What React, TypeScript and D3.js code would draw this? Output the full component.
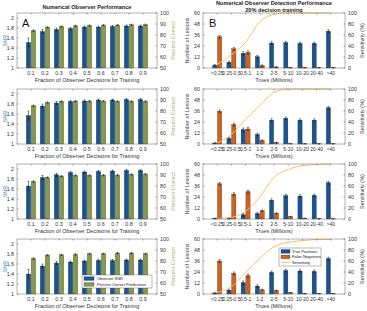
import React from "react";
import * as d3 from "d3";

const fractions = [0.1, 0.2, 0.3, 0.4, 0.5, 0.6, 0.7, 0.8, 0.9];
const fractionLabels = ["0.1", "0.2", "0.3", "0.4", "0.5", "0.6", "0.7", "0.8", "0.9"];

const snr1 = [1.51, 1.73, 1.77, 1.79, 1.82, 1.82, 1.83, 1.84, 1.84];
const snr2 = [1.57, 1.76, 1.82, 1.85, 1.86, 1.88, 1.88, 1.89, 1.89];
const snr3 = [1.66, 1.83, 1.885, 1.93, 1.94, 1.95, 1.96, 1.97, 1.97];
const snr4 = [1.40, 1.56, 1.62, 1.64, 1.66, 1.67, 1.67, 1.68, 1.68];
const snrErr = [0.09, 0.04, 0.03, 0.02, 0.02, 0.02, 0.02, 0.02, 0.02];

const pc1 = [84, 87, 87.7, 88.3, 88.6, 89, 89, 89.3, 89.3];
const pc2 = [84.7, 87.7, 88.7, 89, 89, 89, 88.7, 88.7, 88.7];
const pc3 = [84, 87.7, 89, 89.6, 89.6, 89.9, 89.9, 90.5, 90.8];
const pc4 = [82.2, 85.3, 85.6, 86, 86.6, 86.6, 87.2, 87.2, 86.6];
const pcErr = [0.7, 0.6, 0.6, 0.6, 0.6, 0.6, 0.6, 0.6, 0.6];

const trueBins = ["<0.25", "0.25-0.5", "0.5-1", "1-2", "2-5", "5-10", "10-20", "20-40", ">40"];

const tp1 = [3, 6.3, 16, 12.3, 27.2, 27.6, 26.8, 26.8, 40.2];
const tp2 = [1, 6, 15.6, 10.4, 26, 28, 26, 26, 39.5];
const tp3 = [0.4, 0.7, 4.8, 6, 20.5, 25.3, 25, 25.7, 39.5];
const tp4 = [1.1, 4.1, 12.4, 8.6, 23.6, 25.5, 25.1, 24.7, 38.6];

const fn1 = [34, 20.9, 17, 2.6, 1, 0.3, 0.3, 0.3, 0.3];
const fn2 = [35.8, 21.2, 16.4, 3.7, 1.5, 0.2, 0.2, 0.2, 0.2];
const fn3 = [38.4, 27.2, 29.8, 9, 6.3, 2.6, 0.8, 0.3, 0.2];
const fn4 = [36, 22.5, 19.9, 4.5, 3.7, 1.5, 0.4, 0.4, 0.4];

const sens1 = [7, 24, 47, 84, 97, 100, 100, 100, 100];
const sens2 = [2, 17, 45, 70, 94, 100, 100, 100, 100];
const sens3 = [1, 3, 14, 40, 76, 90, 97, 99, 100];
const sens4 = [3, 13, 39, 65, 86, 94, 97, 99, 99];

const tpErr = [0.7, 1.2, 1.8, 1.4, 1.5, 1.5, 1.4, 1.4, 1.5];
const fnErr = [1.5, 1.6, 1.8, 0.8, 0.6, 0.3, 0.2, 0.2, 0.2];

const snrTicks = [1, 1.2, 1.4, 1.6, 1.8, 2];
const pcTicks = [50, 60, 70, 80, 90, 100];
const lesionTicks = [0, 12, 24, 36, 48, 60];
const sensTicks = [0, 20, 40, 60, 80, 100];

const FONT = "'Liberation Sans', Arial, sans-serif";
const BLUE = "#1b5590";
const GREEN = "#88994d";
const ORANGE = "#d2611f";
const SENS = "#f6c266";
const ROW_TOPS = [13, 89, 164, 239];
const H = 55;
const LX0 = 17, LX1 = 157;
const RX0 = 203, RX1 = 345;

function ErrBar({ x, y0, y1, cap }: { x: number; y0: number; y1: number; cap: number }) {
  return (
    <g stroke="#111" strokeWidth={0.5}>
      <line x1={x} x2={x} y1={y0} y2={y1} />
      <line x1={x - cap} x2={x + cap} y1={y0} y2={y0} />
      <line x1={x - cap} x2={x + cap} y1={y1} y2={y1} />
    </g>
  );
}

function LeftPanel({ top, snr, pc, legend, title }: any) {
  const x = d3.scaleLinear().domain([0, 1]).range([LX0, LX1]);
  const yL = d3.scaleLinear().domain([1, 2.1]).range([top + H, top]);
  const yR = d3.scaleLinear().domain([50, 100]).range([top + H, top]);
  const bw = 4.4;
  return (
    <g fontFamily={FONT}>
      {title && (
        <text x={(LX0 + LX1) / 2} y={top - 4} fontSize={5.6} fontWeight="bold" textAnchor="middle" fill="#222">
          Numerical Observer Performance
        </text>
      )}
      {fractions.map((f, i) => (
        <g key={i}>
          <rect x={x(f) - bw - 0.3} y={yL(snr[i])} width={bw} height={yL(1) - yL(snr[i])} fill={BLUE} stroke="#0b2540" strokeWidth={0.3} />
          <rect x={x(f) + 0.3} y={yR(pc[i])} width={bw} height={yR(50) - yR(pc[i])} fill={GREEN} stroke="#2d3a14" strokeWidth={0.3} />
          <ErrBar x={x(f) - bw / 2 - 0.3} y0={yL(snr[i] - snrErr[i])} y1={yL(snr[i] + snrErr[i])} cap={1} />
          <ErrBar x={x(f) + bw / 2 + 0.3} y0={yR(pc[i] - pcErr[i])} y1={yR(pc[i] + pcErr[i])} cap={1} />
        </g>
      ))}
      <rect x={LX0} y={top} width={LX1 - LX0} height={H} fill="none" stroke="#666" strokeWidth={0.5} />
      {fractions.map((f, i) => (
        <g key={i}>
          <line x1={x(f)} x2={x(f)} y1={top + H} y2={top + H - 1.5} stroke="#444" strokeWidth={0.5} />
          <line x1={x(f)} x2={x(f)} y1={top} y2={top + 1.5} stroke="#444" strokeWidth={0.5} />
          <text x={x(f)} y={top + H + 7} fontSize={5.3} textAnchor="middle" fill="#333">{fractionLabels[i]}</text>
        </g>
      ))}
      {snrTicks.map((t) => (
        <g key={t}>
          <line x1={LX0} x2={LX0 + 1.5} y1={yL(t)} y2={yL(t)} stroke="#444" strokeWidth={0.5} />
          <text x={LX0 - 3} y={yL(t) + 1.9} fontSize={5.3} textAnchor="end" fill="#333">{String(t)}</text>
        </g>
      ))}
      {pcTicks.map((t) => (
        <g key={t}>
          <line x1={LX1} x2={LX1 - 1.5} y1={yR(t)} y2={yR(t)} stroke="#444" strokeWidth={0.5} />
          <text x={LX1 + 3} y={yR(t) + 1.9} fontSize={5.3} textAnchor="start" fill="#333">{String(t)}</text>
        </g>
      ))}
      <text transform={`translate(6.5,${top + H / 2}) rotate(-90)`} fontSize={5.5} textAnchor="middle" fill="#3d8ad0">SNR</text>
      <text transform={`translate(175,${top + H / 2}) rotate(-90)`} fontSize={5.5} textAnchor="middle" fill="#a8b86a">Percent Correct</text>
      <text x={(LX0 + LX1) / 2} y={top + H + 14} fontSize={5.5} textAnchor="middle" fill="#333">Fraction of Observer Decisions for Training</text>
      {legend && (
        <g>
          <rect x={82} y={top + 36} width={70} height={13} fill="#fff" stroke="#555" strokeWidth={0.4} />
          <rect x={84} y={top + 37.8} width={10} height={3.6} fill={BLUE} stroke="#0b2540" strokeWidth={0.3} />
          <text x={97} y={top + 41.1} fontSize={4} fill="#111">Observer SNR</text>
          <rect x={84} y={top + 43.6} width={10} height={3.6} fill={GREEN} stroke="#2d3a14" strokeWidth={0.3} />
          <text x={97} y={top + 46.9} fontSize={4} fill="#111">Percent Correct Predictions</text>
        </g>
      )}
    </g>
  );
}

function RightPanel({ top, tp, fn, sens, legend, title }: any) {
  const x = d3.scaleLinear().domain([0, 10]).range([RX0, RX1]);
  const yL = d3.scaleLinear().domain([0, 60]).range([top + H, top]);
  const yR = d3.scaleLinear().domain([0, 100]).range([top + H, top]);
  const bw = 4.2;
  const line = d3.line<number>().x((_, i) => x(i + 1)).y((d) => yR(d)).curve(d3.curveMonotoneX);
  return (
    <g fontFamily={FONT}>
      {title && (
        <g>
          <text x={(RX0 + RX1) / 2} y={5} fontSize={5.6} fontWeight="bold" textAnchor="middle" fill="#222">Numerical Observer Detection Performance</text>
          <text x={(RX0 + RX1) / 2} y={11.5} fontSize={5.6} fontWeight="bold" textAnchor="middle" fill="#222">20% decision training</text>
        </g>
      )}
      {trueBins.map((b, i) => (
        <g key={i}>
          <rect x={x(i + 1) - bw - 0.3} y={yL(tp[i])} width={bw} height={yL(0) - yL(tp[i])} fill={BLUE} stroke="#0b2540" strokeWidth={0.3} />
          <rect x={x(i + 1) + 0.3} y={yL(fn[i])} width={bw} height={yL(0) - yL(fn[i])} fill={ORANGE} stroke="#3a1a06" strokeWidth={0.3} />
          <ErrBar x={x(i + 1) - bw / 2 - 0.3} y0={yL(Math.max(0, tp[i] - tpErr[i]))} y1={yL(tp[i] + tpErr[i])} cap={1} />
          <ErrBar x={x(i + 1) + bw / 2 + 0.3} y0={yL(Math.max(0, fn[i] - fnErr[i]))} y1={yL(fn[i] + fnErr[i])} cap={1} />
        </g>
      ))}
      <path d={line(sens) || ""} fill="none" stroke={SENS} strokeWidth={1} />
      <rect x={RX0} y={top} width={RX1 - RX0} height={H} fill="none" stroke="#666" strokeWidth={0.5} />
      {trueBins.map((b, i) => (
        <g key={i}>
          <line x1={x(i + 1)} x2={x(i + 1)} y1={top + H} y2={top + H - 1.5} stroke="#444" strokeWidth={0.5} />
          <line x1={x(i + 1)} x2={x(i + 1)} y1={top} y2={top + 1.5} stroke="#444" strokeWidth={0.5} />
          <text x={x(i + 1)} y={top + H + 7} fontSize={5} textAnchor="middle" fill="#333">{b}</text>
        </g>
      ))}
      {lesionTicks.map((t) => (
        <g key={t}>
          <line x1={RX0} x2={RX0 + 1.5} y1={yL(t)} y2={yL(t)} stroke="#444" strokeWidth={0.5} />
          <text x={RX0 - 3} y={yL(t) + 1.9} fontSize={5.3} textAnchor="end" fill="#333">{String(t)}</text>
        </g>
      ))}
      {sensTicks.map((t) => (
        <g key={t}>
          <line x1={RX1} x2={RX1 - 1.5} y1={yR(t)} y2={yR(t)} stroke="#444" strokeWidth={0.5} />
          <text x={RX1 + 3} y={yR(t) + 1.9} fontSize={5.3} textAnchor="start" fill="#333">{String(t)}</text>
        </g>
      ))}
      <text transform={`translate(189,${top + H / 2}) rotate(-90)`} fontSize={5.5} textAnchor="middle" fill="#444">Number of Lesions</text>
      <text transform={`translate(364,${top + H / 2}) rotate(-90)`} fontSize={5.5} textAnchor="middle" fill="#444">Sensitivity (%)</text>
      <text x={(RX0 + RX1) / 2} y={top + H + 14} fontSize={5.5} textAnchor="middle" fill="#333">Trues (Millions)</text>
      {legend && (
        <g>
          <rect x={279} y={top + 9} width={42} height={18} fill="#fff" stroke="#555" strokeWidth={0.4} />
          <rect x={281} y={top + 10.6} width={9} height={3.6} fill={BLUE} stroke="#0b2540" strokeWidth={0.3} />
          <text x={292} y={top + 13.9} fontSize={4} fill="#111">True Positives</text>
          <rect x={281} y={top + 16.1} width={9} height={3.6} fill={ORANGE} stroke="#3a1a06" strokeWidth={0.3} />
          <text x={292} y={top + 19.4} fontSize={4} fill="#111">False Negatives</text>
          <line x1={281} x2={290} y1={top + 23.5} y2={top + 23.5} stroke={SENS} strokeWidth={1} />
          <text x={292} y={top + 24.9} fontSize={4} fill="#111">Sensitivity</text>
        </g>
      )}
    </g>
  );
}

export default function App() {
  const snrs = [snr1, snr2, snr3, snr4];
  const pcs = [pc1, pc2, pc3, pc4];
  const tps = [tp1, tp2, tp3, tp4];
  const fns = [fn1, fn2, fn3, fn4];
  const senss = [sens1, sens2, sens3, sens4];
  return (
    <svg width={367} height={311} style={{ position: "absolute", left: 0, top: 0, background: "#fff" }}>
      <rect width={367} height={311} fill="#fff" />
      {ROW_TOPS.map((top, r) => (
        <g key={r}>
          <LeftPanel top={top} snr={snrs[r]} pc={pcs[r]} title={r === 0} legend={r === 3} />
          <RightPanel top={top} tp={tps[r]} fn={fns[r]} sens={senss[r]} title={r === 0} legend={r === 3} />
        </g>
      ))}
      <text x={22} y={27} fontSize={11} fontFamily={FONT} fill="#111">A</text>
      <text x={209} y={27} fontSize={11} fontFamily={FONT} fill="#111">B</text>
    </svg>
  );
}
